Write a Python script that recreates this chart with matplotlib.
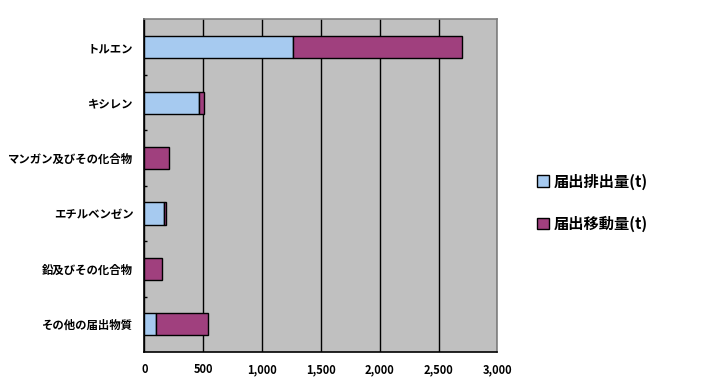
import matplotlib.pyplot as plt
import numpy as np
import matplotlib.ticker as ticker

plt.rcParams["font.family"] = ["Noto Sans CJK JP", "DejaVu Sans"]

# データ
categories = ["トルエン", "キシレン", "マンガン及びその化合物", "エチルベンゼン", "鉛及びその化合物", "その他の届出物質"]
release = [1265, 460, 0, 165, 0, 102]      # 届出排出量(t)
transfer = [1433, 49, 212, 17, 153, 441]   # 届出移動量(t)
series_names = ["届出排出量(t)", "届出移動量(t)"]
colors = ["#A6CAF0", "#A0407E"]

fig = plt.figure(figsize=(7.10, 3.86), dpi=100)
ax = fig.add_axes([0.2035, 0.088, 0.4972, 0.8615])

y = np.arange(len(categories))
ax.barh(y, release, height=0.4, color=colors[0], edgecolor="black", linewidth=1,
        label=series_names[0], zorder=3)
ax.barh(y, transfer, left=release, height=0.4, color=colors[1], edgecolor="black",
        linewidth=1, label=series_names[1], zorder=3)

ax.set_facecolor("#C0C0C0")
ax.set_xlim(0, 3000)
ax.set_ylim(len(categories) - 0.5, -0.5)
ax.xaxis.set_major_locator(ticker.MultipleLocator(500))
ax.xaxis.set_major_formatter(ticker.FuncFormatter(lambda v, p: f"{int(v):,}"))
ax.grid(axis="x", color="black", linewidth=1, zorder=1)

ax.set_yticks(y)
ax.set_yticklabels(categories, fontsize=8.2, fontweight="bold")
ax.yaxis.set_minor_locator(ticker.FixedLocator(np.arange(0.5, len(categories) - 1, 1)))
ax.tick_params(axis="y", which="major", length=0, pad=8)
ax.tick_params(axis="y", which="minor", direction="in", length=2, width=1)
ax.tick_params(axis="x", length=0, pad=8, labelsize=8)
for lbl in ax.get_xticklabels():
    lbl.set_fontweight("bold")

for side in ["left", "bottom"]:
    ax.spines[side].set_color("black")
    ax.spines[side].set_linewidth(1.2)
for side in ["top", "right"]:
    ax.spines[side].set_color("#808080")
    ax.spines[side].set_linewidth(1.2)

fig.legend(loc="center left", bbox_to_anchor=(0.756, 0.475), frameon=False,
           prop={"size": 11, "weight": "bold"}, handlelength=0.8, handleheight=0.8,
           handletextpad=0.3, labelspacing=1.7, borderpad=0, borderaxespad=0)

fig.savefig("out.png", dpi=100)
